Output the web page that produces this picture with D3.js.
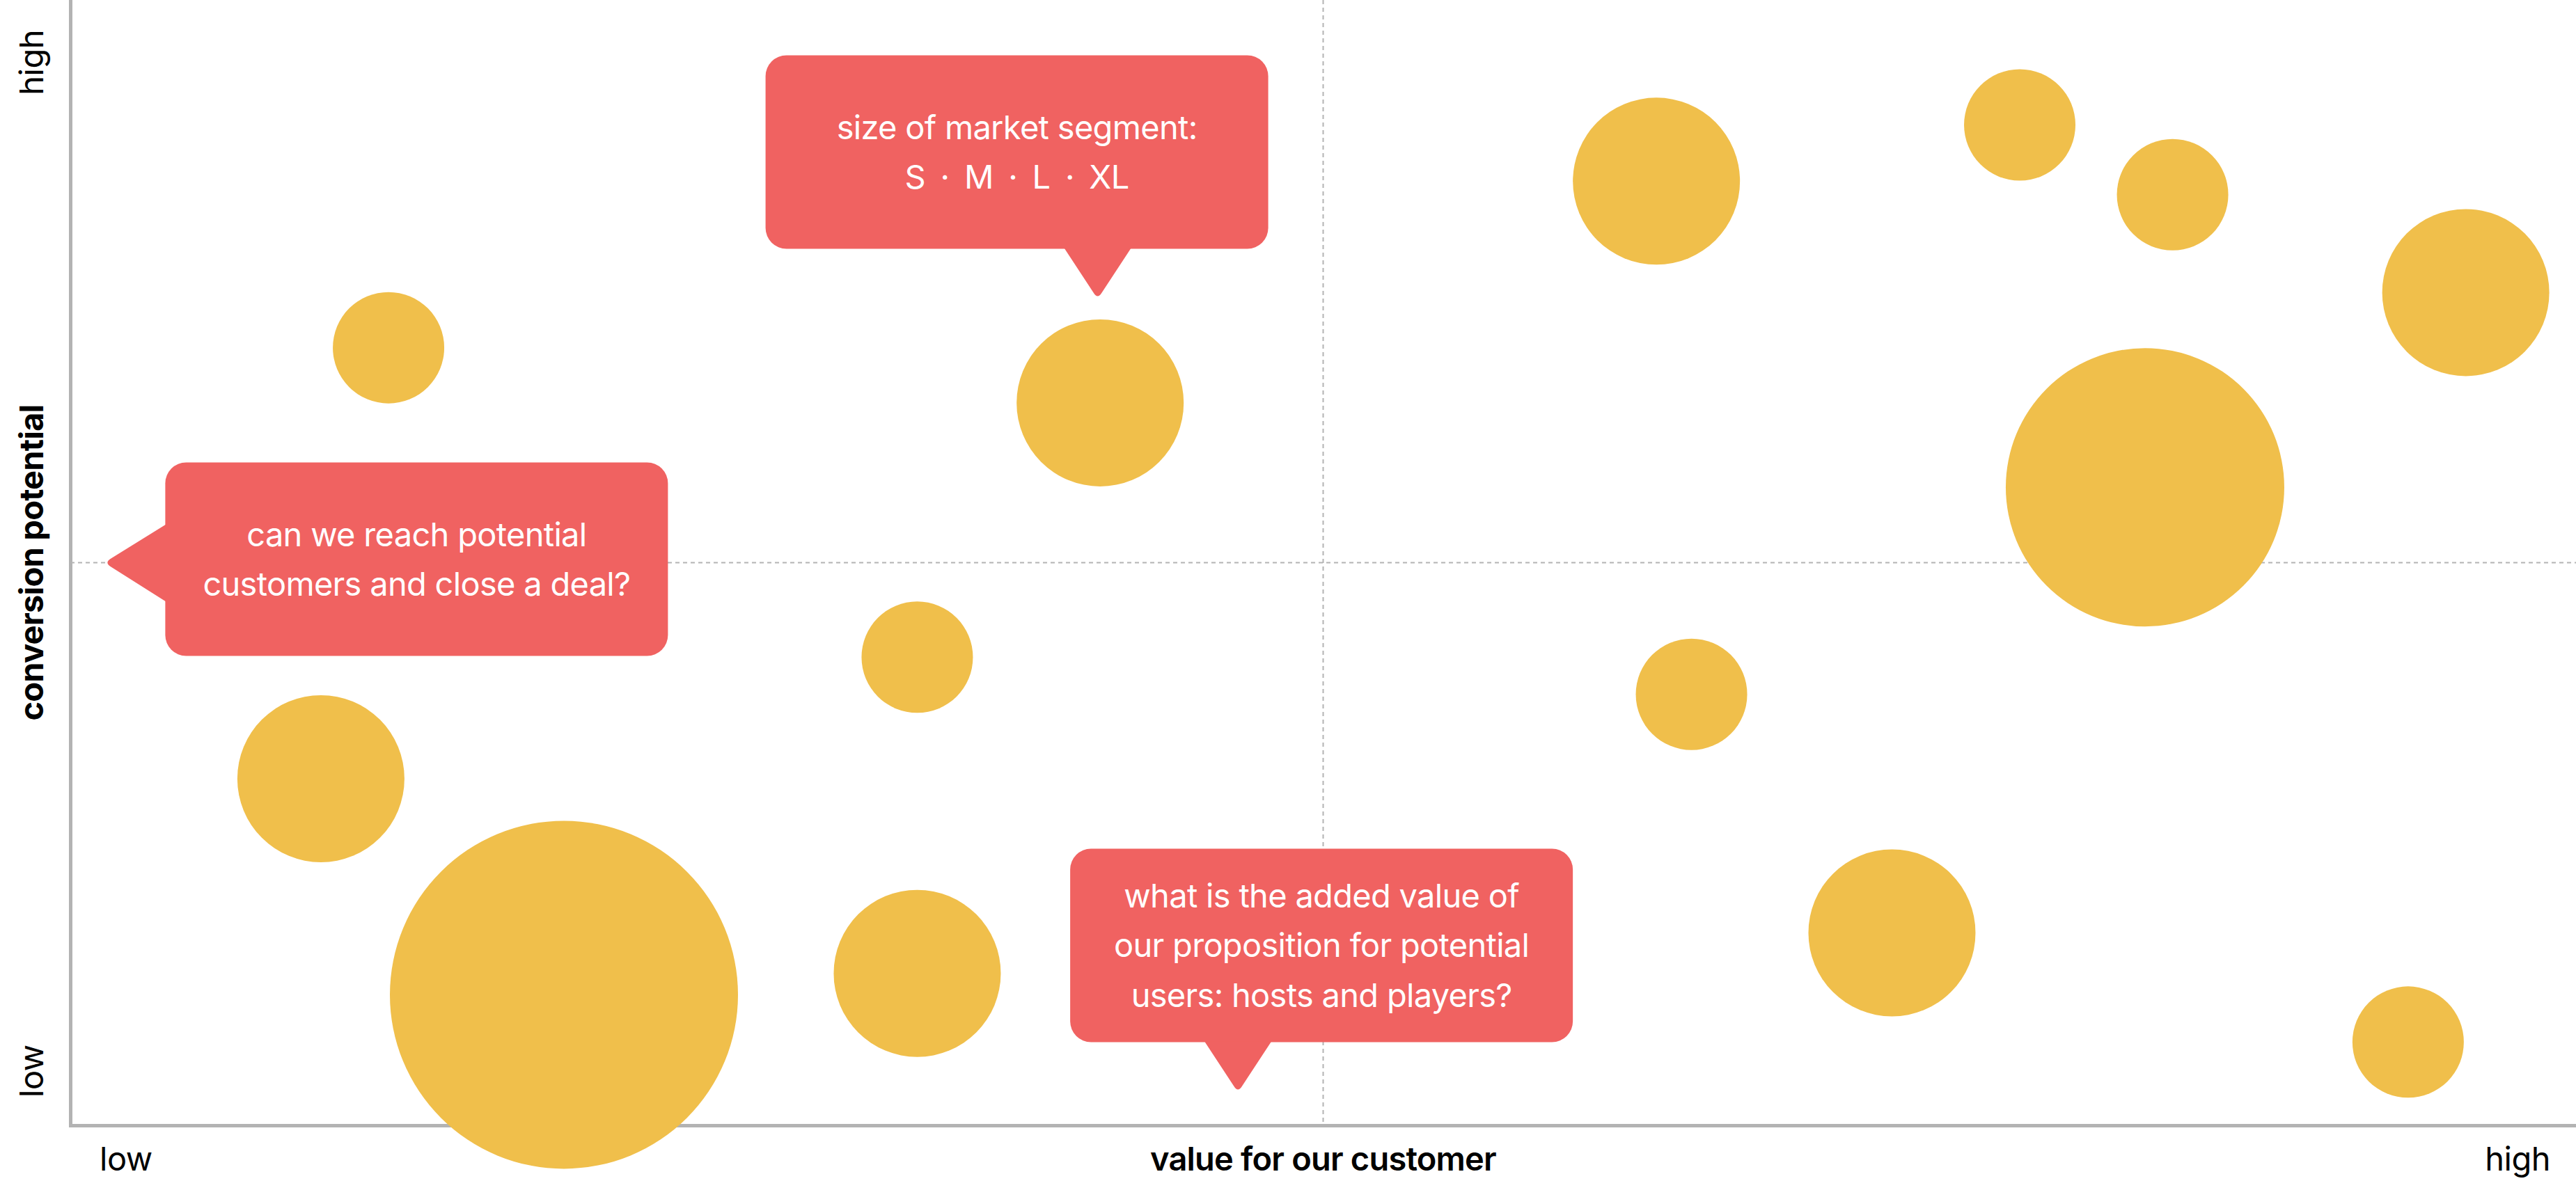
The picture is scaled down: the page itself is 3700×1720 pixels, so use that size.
<!DOCTYPE html>
<html>
<head>
<meta charset="utf-8">
<script src="https://cdn.jsdelivr.net/npm/d3@7"></script>
<style>
  body { margin: 0; background: #fff; }
  svg { display: block; }
  text { font-family: Inter, "Noto Sans", sans-serif; }
</style>
</head>
<body>
<div id="canvas"></div>
<script>
// market segments: value for our customer (x), conversion potential (y), segment size
const value_for_customer   = [1.27, 4.11, 6.33, 7.78, 8.39, 9.56, 8.28, 3.38, 1.00, 1.97, 3.38, 6.47, 7.27, 9.33];
const conversion_potential = [6.91, 6.42, 8.39, 8.89, 8.27, 7.40, 5.67, 4.16, 3.08, 1.16, 1.35, 3.83, 1.71, 0.74];
const segment_size         = ['S', 'M', 'M', 'S', 'S', 'M', 'L', 'S', 'M', 'XL', 'M', 'S', 'M', 'S'];

const size_levels = ['S', 'M', 'L', 'XL'];
const axis_ends = ['low', 'high'];
const x_title = 'value for our customer';
const y_title = 'conversion potential';

const callout_size = ['size of market segment:', size_levels.join(' · ')];
const callout_reach = ['can we reach potential', 'customers and close a deal?'];
const callout_value = ['what is the added value of', 'our proposition for potential', 'users: hosts and players?'];

const canvas_width = 3700;
const canvas_height = 1720;

const svg = d3.select('#canvas')
    .append('svg')
    .attr('width', canvas_width)
    .attr('height', canvas_height);

const x = d3.scaleLinear().domain([0, 10]).range([101, 3700]);
const y = d3.scaleLinear().domain([0, 10]).range([1617, 0]);
const r = d3.scaleOrdinal().domain(size_levels).range([80, 120, 200, 250]);

const axis_color = '#b3b3b3';
const bubble_color = '#f0bf4b';
const callout_color = '#f06261';

// quadrant lines
svg.append('line')
    .attr('x1', x(5)).attr('x2', x(5))
    .attr('y1', y(10)).attr('y2', y(0))
    .attr('stroke', axis_color).attr('stroke-width', 2).attr('stroke-dasharray', '6 5');
svg.append('line')
    .attr('x1', x(0)).attr('x2', x(10))
    .attr('y1', y(5)).attr('y2', y(5))
    .attr('stroke', axis_color).attr('stroke-width', 2).attr('stroke-dasharray', '6 5');

// axes, no ticks, just the domain line
const x_axis = svg.append('g')
    .attr('transform', `translate(0,${y(0)})`)
    .call(d3.axisBottom(x).tickValues([]).tickSizeOuter(0));
const y_axis = svg.append('g')
    .attr('transform', `translate(${x(0)},0)`)
    .call(d3.axisLeft(y).tickValues([]).tickSizeOuter(0));
[x_axis, y_axis].forEach(g => g.select('.domain')
    .attr('stroke', axis_color).attr('stroke-width', 5).attr('stroke-linecap', 'square'));

// bubbles
const points = value_for_customer.map((v, i) => ({
    value: v, conversion: conversion_potential[i], size: segment_size[i]
}));

svg.selectAll('circle.bubble')
    .data(points)
    .enter()
    .append('circle')
    .attr('class', 'bubble')
    .attr('cx', d => x(d.value))
    .attr('cy', d => y(d.conversion))
    .attr('r', d => r(d.size))
    .attr('fill', bubble_color);

// axis labels
const label_size = 47;
svg.append('text').text(axis_ends[0])
    .attr('x', 143).attr('y', 1682)
    .attr('font-size', label_size).attr('letter-spacing', -0.5);
svg.append('text').text(axis_ends[1])
    .attr('x', 3663).attr('y', 1682).attr('text-anchor', 'end')
    .attr('font-size', label_size).attr('letter-spacing', -0.5);
svg.append('text').text(x_title)
    .attr('x', x(5)).attr('y', 1682).attr('text-anchor', 'middle')
    .attr('font-size', label_size).attr('font-weight', 600).attr('letter-spacing', -0.8);

svg.append('text').text(axis_ends[0])
    .attr('transform', 'translate(62,1577) rotate(-90)')
    .attr('font-size', label_size).attr('letter-spacing', -0.5);
svg.append('text').text(axis_ends[1])
    .attr('transform', 'translate(62,43) rotate(-90)').attr('text-anchor', 'end')
    .attr('font-size', label_size).attr('letter-spacing', -0.5);
svg.append('text').text(y_title)
    .attr('transform', `translate(62,${y(5)}) rotate(-90)`).attr('text-anchor', 'middle')
    .attr('font-size', label_size).attr('font-weight', 700).attr('letter-spacing', -0.8);

// speech bubbles
const box_w = 722, box_h = 278, radius = 30;

function callout(lines, tx, ty, side, shift, word_space) {
    // tx, ty = pointer tip; box placed relative to it
    let bx, by, pointer;
    if (side === 'down') {          // pointer below the box
        bx = tx - shift; by = ty - 71 - box_h;
        const base = by + box_h;
        pointer = `M${tx - 48},${base - 1} L${tx - 6},${ty - 8} Q${tx},${ty + 2} ${tx + 6},${ty - 8} L${tx + 48},${base - 1} Z`;
    } else {                        // pointer to the left of the box
        bx = tx + 86; by = ty - 144;
        pointer = `M${bx + 1},${ty - 55} L${tx + 8},${ty - 6} Q${tx - 2},${ty} ${tx + 8},${ty + 6} L${bx + 1},${ty + 56} Z`;
    }
    const g = svg.append('g');
    g.append('rect')
        .attr('x', bx).attr('y', by)
        .attr('width', box_w).attr('height', box_h)
        .attr('rx', radius).attr('ry', radius)
        .attr('fill', callout_color);
    g.append('path').attr('d', pointer).attr('fill', callout_color);
    const cy = by + box_h / 2;
    g.selectAll('text')
        .data(lines)
        .enter()
        .append('text')
        .attr('x', bx + box_w / 2)
        .attr('y', (d, i) => cy + (i - (lines.length - 1) / 2) * 71.5 + 17)
        .attr('text-anchor', 'middle')
        .attr('fill', '#fff')
        .attr('font-size', 47)
        .attr('letter-spacing', -0.7)
        .attr('word-spacing', (d, i) => word_space && i === 1 ? word_space : 0)
        .text(d => d);
}

callout(callout_size, x(4.10), y(7.35), 'down', 477, 9);
callout(callout_reach, x(0.14), y(5), 'left');
callout(callout_value, x(4.66), y(0.30), 'down', 241);
</script>
</body>
</html>
